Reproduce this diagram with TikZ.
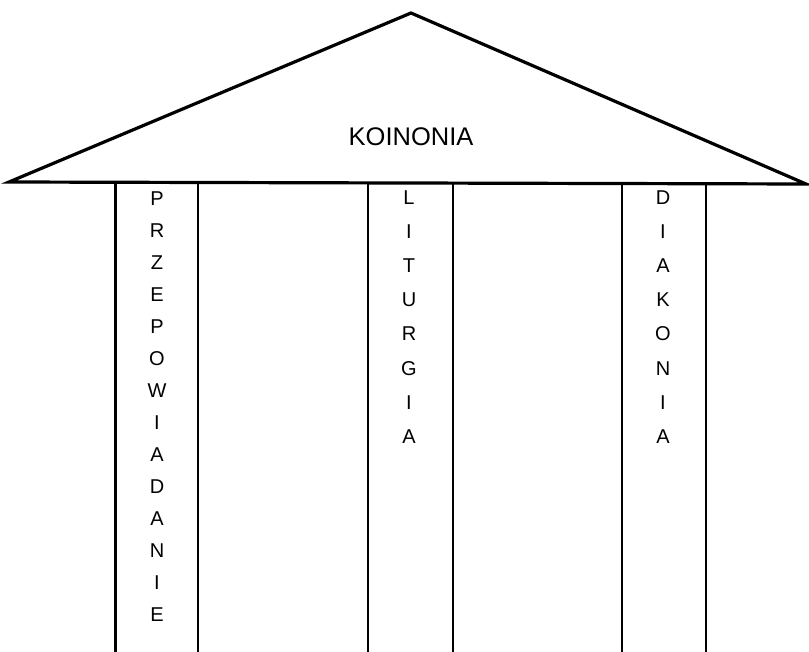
\documentclass[tikz,border=0pt]{standalone}
\usepackage{fontspec}
\setmainfont{Liberation Sans}
\begin{document}
\begin{tikzpicture}[x=1pt,y=-1pt,
  roofline/.style={line width=3.2pt,line join=miter},
  pillarline/.style={line width=2.5pt},
  rooftext/.style={font=\fontsize{25.5}{25.5}\selectfont,inner sep=0pt},
  pillartext/.style={align=center,inner sep=0pt}]
\useasboundingbox (0,0) rectangle (809,652);
\coordinate (apex) at (411,13);
\coordinate (bl) at (9,182);
\coordinate (br) at (806,184);
\draw[roofline] (bl) -- (apex) -- (br) -- cycle;
\node[rooftext] (koinonia) at (411,137) {KOINONIA};
% pillars
\foreach \n/\x in {p1a/115.5, p1b/198, p2a/368, p2b/453, p3a/622, p3b/706}{
  \coordinate (\n top) at (\x,183);
  \coordinate (\n bot) at (\x,652);
  \draw[pillarline] (\n top) -- (\n bot);
}
\node[pillartext,font=\fontsize{20}{32}\selectfont] (przep) at (157,407)
  {P\\R\\Z\\E\\P\\O\\W\\I\\A\\D\\A\\N\\I\\E};
\node[pillartext,font=\fontsize{20}{34.2}\selectfont] (liturgia) at (409,317)
  {L\\I\\T\\U\\R\\G\\I\\A};
\node[pillartext,font=\fontsize{20}{34.2}\selectfont] (diakonia) at (663,317)
  {D\\I\\A\\K\\O\\N\\I\\A};
\end{tikzpicture}
\end{document}
